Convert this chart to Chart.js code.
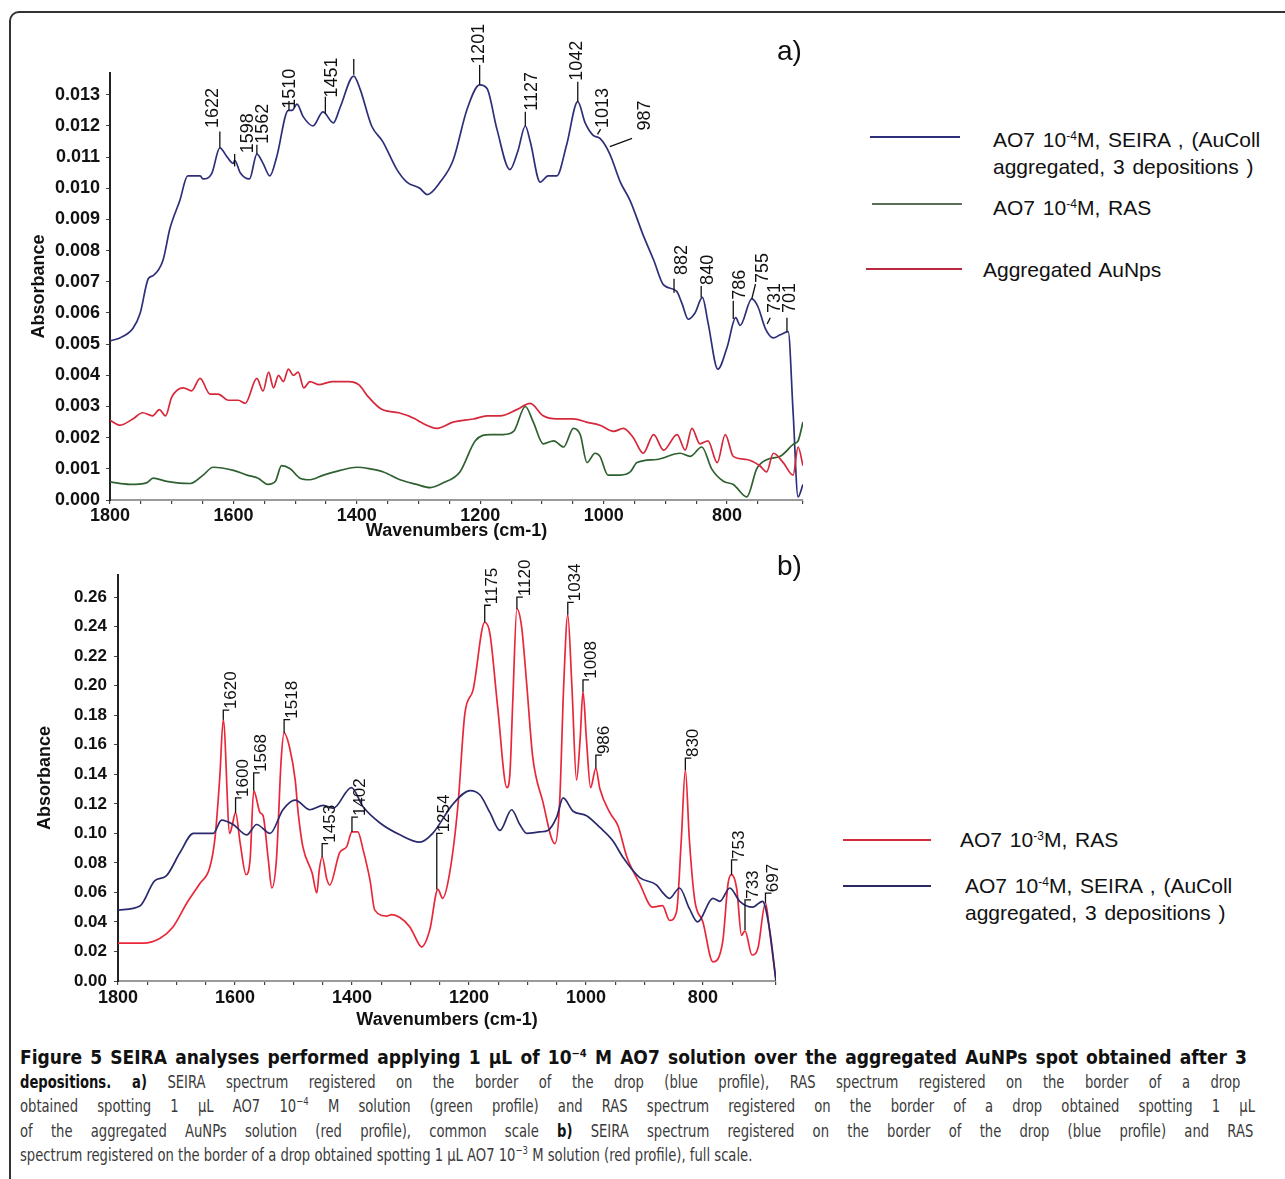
<!DOCTYPE html>
<html><head><meta charset="utf-8">
<script src="https://cdn.jsdelivr.net/npm/chart.js@4.4.1/dist/chart.umd.min.js"></script>
<style>
html,body{margin:0;padding:0;background:#fff;width:1285px;height:1179px;overflow:hidden;position:relative;font-family:"Liberation Sans",Arial,sans-serif;}
#frame{position:absolute;left:9px;top:11px;width:1400px;height:1300px;border:2px solid #333;border-top-left-radius:10px;box-sizing:border-box;}
canvas{position:absolute;}
#ca{left:0;top:0;}
#cb{left:0;top:545px;}
.lg{position:absolute;height:0;border-top:2px solid;}
.lt{position:absolute;font-size:21px;color:#111;line-height:27px;white-space:nowrap;word-spacing:2px;}
.lt sup{font-size:12px;vertical-align:7px;line-height:0;}
.panel{position:absolute;font-size:28px;color:#111;line-height:30px;}
#cap{position:absolute;left:20px;top:1045px;font-family:"Liberation Sans Narrow","DejaVu Sans Condensed",sans-serif;font-size:17px;color:#3a3a3a;}
#cap div{height:24.5px;line-height:24.5px;text-align:justify;text-align-last:justify;}
#cap div.sq{transform:scaleX(0.86);transform-origin:0 0;}
#cap b{color:#111;}
#cap sup{font-size:11px;line-height:0;}
</style></head>
<body>
<div id="frame"></div>
<canvas id="ca" width="830" height="545"></canvas>
<canvas id="cb" width="800" height="490"></canvas>

<div class="panel" style="left:777px;top:36px;">a)</div>
<div class="panel" style="left:777px;top:551px;">b)</div>

<div class="lg" style="left:870px;top:136px;width:90px;border-color:#2e2e7a;"></div>
<div class="lt" style="left:993px;top:126px;">AO7 10<sup>-4</sup>M, SEIRA , (AuColl<br>aggregated, 3 depositions )</div>
<div class="lg" style="left:872px;top:203px;width:90px;border-color:#5b7059;"></div>
<div class="lt" style="left:993px;top:194px;">AO7 10<sup>-4</sup>M, RAS</div>
<div class="lg" style="left:866px;top:268px;width:96px;border-color:#b8283e;"></div>
<div class="lt" style="left:983px;top:256px;">Aggregated AuNps</div>

<div class="lg" style="left:843px;top:839px;width:88px;border-color:#d8283c;"></div>
<div class="lt" style="left:960px;top:826px;">AO7 10<sup>-3</sup>M, RAS</div>
<div class="lg" style="left:843px;top:885px;width:88px;border-color:#2a2a5e;"></div>
<div class="lt" style="left:965px;top:872px;">AO7 10<sup>-4</sup>M, SEIRA , (AuColl<br>aggregated, 3 depositions )</div>

<div id="cap">
<div style="width:1227px;font-weight:bold;font-size:19px;color:#111;">Figure 5 SEIRA analyses performed applying 1 μL of 10<sup>−4</sup> M AO7 solution over the aggregated AuNPs spot obtained after 3</div>
<div class="sq" style="width:1419px;"><b>depositions. a)</b> SEIRA spectrum registered on the border of the drop (blue profile), RAS spectrum registered on the border of a drop</div>
<div class="sq" style="width:1436px;">obtained spotting 1 μL AO7 10<sup>−4</sup> M solution (green profile) and RAS spectrum registered on the border of a drop obtained spotting 1 μL</div>
<div class="sq" style="width:1434px;">of the aggregated AuNPs solution (red profile), common scale <b>b)</b> SEIRA spectrum registered on the border of the drop (blue profile) and RAS</div>
<div class="sq" style="width:1434px;text-align-last:left;">spectrum registered on the border of a drop obtained spotting 1 μL AO7 10<sup>−3</sup> M solution (red profile), full scale.</div>
</div>

<script>
// ---------- Panel a) data ----------
const aBlueWn = [1800,1784,1763,1751,1738,1730,1714,1703,1687,1674,1654,1649,1635,1622,1610,1600,1598,1589,1574,1562,1552,1541,1530,1511,1505,1497,1487,1471,1455,1438,1427,1405,1395,1376,1358,1335,1319,1298,1286,1265,1244,1221,1201,1189,1173,1152,1139,1127,1119,1103,1090,1076,1060,1042,1030,1017,1006,990,973,957,936,919,903,882,873,863,852,840,831,815,800,786,779,760,750,738,725,714,701,693,685,677];
const aBlueAbs = [0.00511,0.0052,0.0055,0.0060,0.0071,0.0072,0.0077,0.0087,0.0096,0.0104,0.0104,0.0103,0.01048,0.0113,0.0110,0.0108,0.0109,0.0105,0.0103,0.0111,0.0108,0.0104,0.0110,0.0125,0.0125,0.0127,0.0123,0.0120,0.01245,0.0121,0.0126,0.0136,0.0132,0.0120,0.0115,0.0106,0.0102,0.0100,0.0098,0.0102,0.0109,0.01256,0.01332,0.0132,0.0119,0.0106,0.0112,0.0120,0.0115,0.0102,0.0104,0.0104,0.0114,0.01278,0.0121,0.0117,0.0116,0.0111,0.0102,0.0096,0.0085,0.0077,0.0069,0.0067,0.0063,0.0058,0.0060,0.0065,0.0057,0.0042,0.0049,0.00585,0.0056,0.00645,0.0062,0.0055,0.0052,0.0053,0.0054,0.0028,0.0001,0.0005];

const aRedWn = [1800,1784,1763,1747,1731,1720,1710,1700,1681,1668,1654,1638,1625,1608,1592,1581,1562,1552,1543,1535,1527,1519,1511,1503,1495,1486,1476,1462,1440,1413,1397,1381,1359,1332,1305,1297,1270,1244,1211,1189,1168,1141,1119,1098,1076,1049,1028,1006,984,968,952,936,919,903,881,868,857,844,831,816,803,790,768,747,736,725,709,693,685,677];
const aRedAbs = [0.00256,0.0024,0.0026,0.0028,0.0027,0.0029,0.0027,0.0033,0.0036,0.0035,0.0039,0.0034,0.0034,0.0032,0.0032,0.0031,0.0039,0.0035,0.0041,0.0036,0.0040,0.0038,0.0042,0.0040,0.0041,0.0036,0.0038,0.0037,0.0038,0.0038,0.0037,0.0033,0.0029,0.0028,0.0026,0.0025,0.0023,0.0025,0.0026,0.0027,0.0027,0.0029,0.0031,0.0027,0.0026,0.0026,0.0025,0.0024,0.0022,0.0023,0.0020,0.0015,0.0021,0.0016,0.0021,0.0016,0.0023,0.0018,0.0019,0.0012,0.0021,0.0014,0.0013,0.0011,0.0009,0.0015,0.0012,0.0008,0.0017,0.0011];

const aGreenWn = [1800,1768,1741,1730,1708,1670,1649,1633,1600,1578,1560,1544,1532,1522,1508,1492,1476,1454,1427,1400,1379,1357,1330,1303,1281,1260,1233,1208,1184,1163,1146,1127,1114,1098,1081,1065,1049,1038,1027,1014,1006,993,973,957,946,914,876,860,841,825,806,790,768,752,735,714,692,685,677];
const aGreenAbs = [0.00058,0.0005,0.00055,0.0007,0.0006,0.00053,0.0008,0.00105,0.00095,0.0008,0.0007,0.0005,0.0006,0.0011,0.0010,0.0007,0.00065,0.0008,0.00095,0.00105,0.0010,0.0009,0.00065,0.0005,0.0004,0.00055,0.0009,0.0019,0.0021,0.0021,0.0022,0.0030,0.0025,0.0018,0.0019,0.0017,0.0023,0.0021,0.0012,0.0015,0.0014,0.0008,0.0008,0.0009,0.0012,0.0013,0.0015,0.0014,0.0017,0.0010,0.0006,0.0005,0.0001,0.0010,0.0013,0.0014,0.0018,0.0019,0.0025];

// peak labels, panel a)
const aPeakText   = ['1622','1598','1562','1510','1451','','1201','1127','1042','1013','987','882','840','786','755','731','701'];
const aPeakBaseWn = [1622,1598,1562,1510,1451,1405,1201,1127,1042,1010,990,886,842,790,760,735,703];
const aPeakBaseAbs= [0.0113,0.0107,0.0111,0.0125,0.0124,0.01364,0.01332,0.0120,0.01278,0.01173,0.01134,0.00665,0.0065,0.00581,0.00645,0.00565,0.0054];
const aPeakTopWn  = [1622,1598,1562,1510,1451,1405,1201,1127,1042,1005,954,886,842,790,754,730,703];
const aPeakTopAbs = [0.01182,0.0111,0.0114,0.0128,0.01294,0.01415,0.01396,0.01246,0.01342,0.0119,0.0116,0.0071,0.00687,0.00639,0.00693,0.00585,0.00585];
const aPeakTextWn = [1633,1576,1552,1508,1440,1405,1202,1116,1043,1001,933,873,831,779,741,722,698];
const aPeakTextAbs= [0.0119,0.01109,0.0114,0.01252,0.01288,0.0142,0.01396,0.01246,0.01342,0.0119,0.01182,0.00719,0.00687,0.00639,0.00693,0.00597,0.00597];

// ---------- Panel b) data ----------
const bRedWn = [1800,1757,1728,1706,1682,1660,1643,1634,1626,1620,1609,1605,1599,1591,1581,1574,1568,1557,1552,1543,1537,1529,1521,1516,1506,1497,1492,1484,1468,1460,1456,1451,1443,1438,1421,1409,1400,1390,1381,1369,1361,1340,1332,1318,1301,1284,1281,1267,1253,1245,1233,1219,1207,1193,1173,1164,1151,1135,1130,1125,1118,1110,1101,1091,1074,1053,1045,1038,1031,1024,1016,1010,1005,999,992,983,976,959,945,930,908,886,869,857,845,837,830,823,814,800,783,766,757,751,742,734,728,716,706,693,686,675];
const bRedAbs = [0.0257,0.0257,0.029,0.0366,0.053,0.066,0.077,0.0975,0.138,0.177,0.100,0.105,0.114,0.093,0.072,0.083,0.129,0.114,0.112,0.082,0.063,0.083,0.150,0.168,0.157,0.136,0.114,0.091,0.073,0.0596,0.075,0.084,0.069,0.065,0.087,0.091,0.101,0.101,0.089,0.068,0.048,0.044,0.045,0.043,0.0366,0.024,0.023,0.0345,0.062,0.056,0.073,0.118,0.181,0.197,0.243,0.235,0.186,0.131,0.14,0.19,0.252,0.24,0.20,0.152,0.122,0.093,0.12,0.20,0.248,0.20,0.136,0.163,0.196,0.163,0.131,0.144,0.13,0.114,0.105,0.084,0.066,0.050,0.051,0.041,0.047,0.095,0.143,0.095,0.055,0.040,0.013,0.027,0.066,0.072,0.062,0.031,0.034,0.0176,0.022,0.053,0.034,0.0];

const bBlueWn = [1800,1762,1737,1718,1694,1671,1637,1623,1603,1580,1563,1540,1518,1497,1472,1449,1432,1401,1381,1352,1318,1284,1262,1227,1198,1181,1164,1147,1127,1113,1101,1079,1065,1050,1039,1022,999,976,954,937,908,879,869,857,840,823,809,783,771,754,737,715,698,686,675];
const bBlueAbs = [0.048,0.051,0.068,0.071,0.087,0.100,0.100,0.109,0.106,0.099,0.106,0.100,0.116,0.1225,0.116,0.119,0.117,0.131,0.118,0.107,0.099,0.094,0.100,0.120,0.129,0.126,0.114,0.102,0.116,0.106,0.100,0.101,0.102,0.111,0.124,0.115,0.112,0.104,0.095,0.084,0.070,0.065,0.060,0.056,0.063,0.049,0.040,0.056,0.054,0.063,0.054,0.050,0.054,0.035,0.0];

// peak labels, panel b)
const bPeakText   = ['1620','1600','1568','1518','1453','1402','1254','1175','1120','1034','1008','986','830','753','733','697'];
const bPeakWn     = [1620,1599,1568,1516,1451,1400,1255,1173,1118,1031,1005,983,830,751,728,693];
const bPeakBaseAbs= [0.177,0.114,0.129,0.168,0.084,0.101,0.062,0.243,0.252,0.248,0.196,0.144,0.143,0.072,0.0345,0.053];
const bPeakTopAbs = [0.1835,0.124,0.141,0.177,0.093,0.111,0.100,0.2545,0.26,0.2565,0.204,0.153,0.151,0.082,0.055,0.0595];

const toPts = (xs, ys) => xs.map((v, i) => ({x: v, y: ys[i]}));

const peakPlugin = {
  id: 'peaks',
  afterDatasetsDraw(chart, args, o) {
    if (!o || !o.text) return;
    const ctx = chart.ctx, X = chart.scales.x, Y = chart.scales.y;
    ctx.save();
    ctx.strokeStyle = '#111'; ctx.fillStyle = '#111'; ctx.lineWidth = 1.3;
    ctx.font = o.font;
    for (let i = 0; i < o.text.length; i++) {
      const bx = X.getPixelForValue(o.baseWn[i]), by = Y.getPixelForValue(o.baseAbs[i]);
      const tx = X.getPixelForValue(o.topWn[i]), ty = Y.getPixelForValue(o.topAbs[i]);
      ctx.beginPath(); ctx.moveTo(bx, by); ctx.lineTo(tx, ty);
      if (o.stub) ctx.lineTo(tx + o.stub, ty);
      ctx.stroke();
      if (o.text[i]) {
        const lx = o.textWn ? X.getPixelForValue(o.textWn[i]) : tx + o.textDx;
        const ly = o.textAbs ? Y.getPixelForValue(o.textAbs[i]) : ty;
        ctx.save(); ctx.translate(lx, ly - 1); ctx.rotate(-Math.PI / 2);
        ctx.textAlign = 'left'; ctx.textBaseline = 'middle';
        ctx.fillText(o.text[i], 0, 0); ctx.restore();
      }
    }
    ctx.restore();
  }
};

const FONT = '"Liberation Sans", Arial, sans-serif';
const multipleOf = (v, s) => Math.abs(v / s - Math.round(v / s)) < 1e-6;

function makeChart(id, cfg) {
  return new Chart(document.getElementById(id), {
    type: 'line',
    data: { datasets: cfg.datasets.map(d => ({
      data: d.data, borderColor: d.color, borderWidth: 1.7, pointRadius: 0,
      cubicInterpolationMode: 'monotone', fill: false
    })) },
    plugins: [peakPlugin],
    options: {
      responsive: false, animation: false, devicePixelRatio: 1,
      layout: { padding: cfg.padding },
      plugins: { legend: { display: false }, tooltip: { enabled: false }, peaks: cfg.peaks },
      scales: {
        x: {
          type: 'linear', reverse: true, min: cfg.xMin, max: 1800,
          afterFit: s => { s.height = cfg.xHeight; },
          border: { color: '#9a9a9a', width: 2 },
          grid: { drawOnChartArea: false, tickLength: 4, color: '#444', lineWidth: 1.2 },
          ticks: { stepSize: 50, autoSkip: false, maxRotation: 0, padding: cfg.xTickPad, color: '#111',
                   font: { family: FONT, size: 18, weight: 'bold' },
                   callback: v => (v % 200 === 0 ? String(v) : '') },
          title: { display: true, text: 'Wavenumbers (cm-1)', color: '#111',
                   font: { family: FONT, size: 18, weight: 'bold' }, padding: { top: 0, bottom: cfg.xTitlePad } }
        },
        y: {
          min: 0, max: cfg.yMax,
          afterFit: s => { s.width = cfg.yWidth; },
          border: { color: '#222', width: 2, dash: [2, 2] },
          grid: { drawOnChartArea: false, tickLength: 4, color: '#444' },
          ticks: { stepSize: cfg.yStep, includeBounds: false, padding: cfg.yTickPad, color: '#111',
                   font: { family: FONT, size: cfg.yFont, weight: 'bold' },
                   callback: v => (multipleOf(v, cfg.yStep) ? v.toFixed(cfg.yDec) : '') },
          title: { display: true, text: 'Absorbance', color: '#111',
                   font: { family: FONT, size: 18, weight: 'bold' }, padding: { top: cfg.yTitlePad, bottom: 0 } }
        }
      }
    }
  });
}

makeChart('ca', {
  padding: { top: 73, right: 27, left: 0, bottom: 0 },
  xMin: 677, xHeight: 45, xTickPad: 1, xTitlePad: 3,
  yMax: 0.0137, yStep: 0.001, yDec: 3, yWidth: 110, yTickPad: 6, yFont: 18, yTitlePad: 28,
  datasets: [
    { data: toPts(aRedWn, aRedAbs), color: '#d6283b' },
    { data: toPts(aGreenWn, aGreenAbs), color: '#2f6030' },
    { data: toPts(aBlueWn, aBlueAbs), color: '#2e2e7a' }
  ],
  peaks: { text: aPeakText, baseWn: aPeakBaseWn, baseAbs: aPeakBaseAbs, topWn: aPeakTopWn, topAbs: aPeakTopAbs,
           textWn: aPeakTextWn, textAbs: aPeakTextAbs, font: '18px ' + FONT }
});

makeChart('cb', {
  padding: { top: 30, right: 24, left: 0, bottom: 0 },
  xMin: 675, xHeight: 54, xTickPad: 2, xTitlePad: 4,
  yMax: 0.275, yStep: 0.02, yDec: 2, yWidth: 118, yTickPad: 7, yFont: 17, yTitlePad: 34,
  datasets: [
    { data: toPts(bBlueWn, bBlueAbs), color: '#2a2a6e' },
    { data: toPts(bRedWn, bRedAbs), color: '#e8283a' }
  ],
  peaks: { text: bPeakText, baseWn: bPeakWn, baseAbs: bPeakBaseAbs, topWn: bPeakWn, topAbs: bPeakTopAbs,
           stub: 6, textDx: 8, font: '17px ' + FONT }
});
</script>
</body></html>
